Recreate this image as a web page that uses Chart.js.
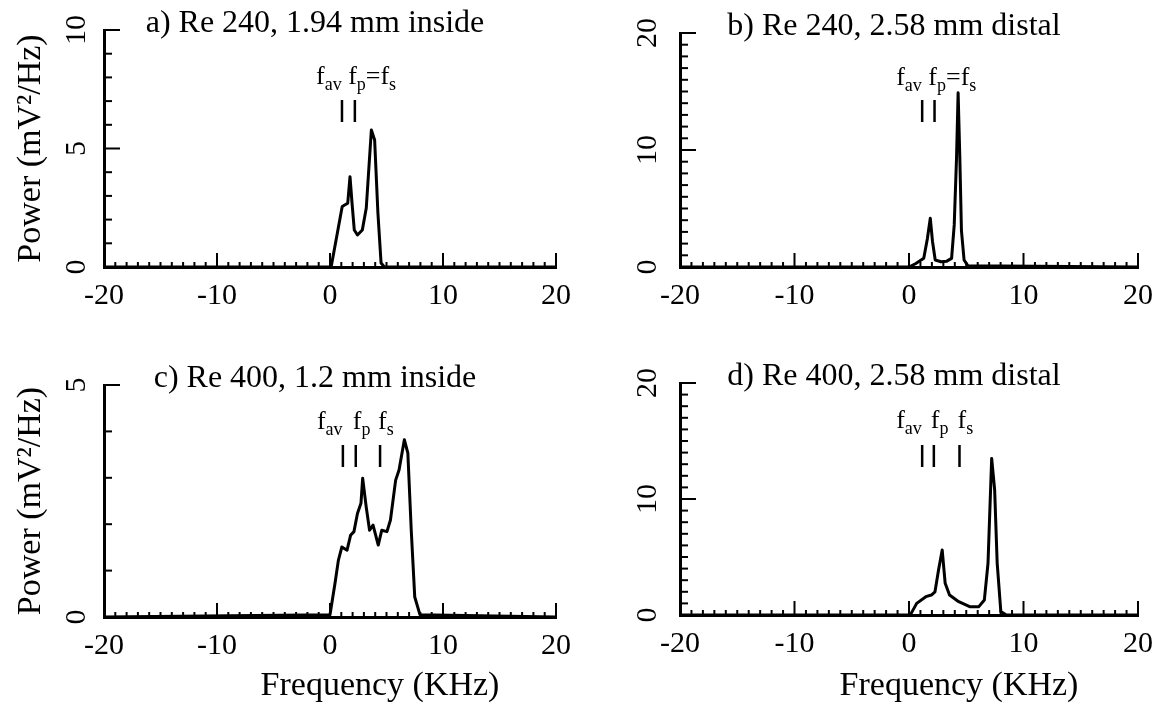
<!DOCTYPE html>
<html>
<head>
<meta charset="utf-8">
<script src="https://cdn.jsdelivr.net/npm/chart.js@4.4.1/dist/chart.umd.min.js"></script>
<style>
  body { margin: 0; background: #fff; }
  #wrap { position: relative; width: 1164px; height: 708px; overflow: hidden; }
  canvas { position: absolute; }
</style>
</head>
<body>
<div id="wrap">
  <canvas id="pa" width="582" height="330" style="left:0;top:0"></canvas>
  <canvas id="pb" width="582" height="330" style="left:582px;top:0"></canvas>
  <canvas id="pc" width="582" height="378" style="left:0;top:330px"></canvas>
  <canvas id="pd" width="582" height="378" style="left:582px;top:330px"></canvas>
</div>
<script>
// spectra (frequency in KHz, power in mV^2/Hz)
var freqA = [-20, 0, 0.1, 1.08, 1.57, 1.77, 1.95, 2.15, 2.43, 2.86, 3.21, 3.66, 3.95, 4.24, 4.52, 4.81, 20];
var powerA = [0, 0, 0, 2.55, 2.69, 3.81, 2.7, 1.56, 1.35, 1.56, 2.49, 5.78, 5.36, 2.28, 0.17, 0, 0];

var freqB = [-20, 0, 0.6, 1.29, 1.6, 1.86, 2.05, 2.29, 2.8, 3.3, 3.72, 3.95, 4.15, 4.29, 4.44, 4.58, 4.81, 5.15, 20];
var powerB = [0, 0, 0.3, 0.74, 2.4, 4.16, 2.2, 0.6, 0.45, 0.5, 0.74, 3.6, 9.3, 14.9, 9.3, 3.1, 0.6, 0.1, 0];

var freqC = [-20, 0, 0.44, 0.74, 1.05, 1.51, 1.82, 2.12, 2.43, 2.74, 2.89, 3.2, 3.5, 3.81, 4.27, 4.58, 5.04, 5.35, 5.81, 6.11, 6.58, 6.89, 7.19, 7.5, 7.96, 20];
var powerC = [0, 0.05, 0.72, 1.22, 1.51, 1.44, 1.76, 1.84, 2.23, 2.45, 2.99, 2.38, 1.87, 1.98, 1.55, 1.87, 1.84, 2.09, 2.95, 3.17, 3.82, 3.53, 1.87, 0.43, 0.05, 0];

var freqD = [-20, 0, 0.19, 0.67, 1.47, 1.95, 2.27, 2.58, 2.9, 3.16, 3.54, 4.34, 5.3, 6.1, 6.58, 6.9, 7.22, 7.48, 7.7, 8.02, 8.5, 20];
var powerD = [0, 0, 0.14, 1.0, 1.58, 1.72, 2.0, 3.88, 5.6, 2.73, 1.72, 1.15, 0.72, 0.72, 1.29, 4.46, 13.5, 10.8, 4.5, 0.29, 0, 0];

// f_av, f_p, f_s marker frequencies
var markA = [1.06, 2.2];
var markB = [1.15, 2.23];
var markC = [1.14, 2.28, 4.43];
var markD = [1.15, 2.17, 4.41];

var xTicks = [-20, -10, 0, 10, 20];
var yTicksA = [0, 5, 10];
var yTicksB = [0, 10, 20];
var yTicksC = [0, 5];
var yTicksD = [0, 10, 20];

var titles = ["a) Re 240, 1.94 mm inside", "b) Re 240, 2.58 mm distal",
              "c) Re 400, 1.2 mm inside", "d) Re 400, 2.58 mm distal"];

var SERIF = '"Liberation Serif", "Times New Roman", serif';
Chart.defaults.font.family = SERIF;
Chart.defaults.color = '#000';

function line(ctx, x1, y1, x2, y2) {
  ctx.beginPath(); ctx.moveTo(x1, y1); ctx.lineTo(x2, y2); ctx.stroke();
}

function drawPieces(ctx, x, y, pieces) {
  pieces.forEach(function (p) {
    ctx.font = (p[1] ? '18px ' : '26px ') + SERIF;
    ctx.fillText(p[0], x, p[1] ? y + 6 : y);
    x += ctx.measureText(p[0]).width;
  });
}

function makePanel(id, c) {
  var decor = {
    id: 'decor',
    afterDraw: function (chart) {
      var ctx = chart.ctx, xs = chart.scales.x, ys = chart.scales.y, ca = chart.chartArea;
      ctx.save();
      ctx.strokeStyle = '#000'; ctx.fillStyle = '#000'; ctx.lineWidth = 2;
      // inward tick marks
      for (var v = -19; v <= 20; v++) {
        var px = xs.getPixelForValue(v);
        line(ctx, px, ca.bottom, px, ca.bottom - (v % 10 === 0 ? 14 : 5));
      }
      for (var w = 1; w <= c.ymax; w++) {
        var py = ys.getPixelForValue(w);
        line(ctx, ca.left, py, ca.left + (c.yTicks.indexOf(w) >= 0 ? 16 : 8), py);
      }
      // rotated y tick labels
      ctx.font = '30px ' + SERIF;
      ctx.textAlign = 'center'; ctx.textBaseline = 'middle';
      c.yTicks.forEach(function (t) {
        ctx.save();
        ctx.translate(ca.left - c.ylabOff, ys.getPixelForValue(t));
        ctx.rotate(-Math.PI / 2);
        ctx.fillText(String(t), 0, 0);
        ctx.restore();
      });
      // panel title
      ctx.font = '32px ' + SERIF;
      ctx.textBaseline = 'alphabetic';
      ctx.fillText(c.title, (ca.left + ca.right) / 2 - 15, ca.top + 2);
      // x axis title
      if (c.xTitle) {
        ctx.font = '34px ' + SERIF;
        ctx.textBaseline = 'middle';
        ctx.fillText('Frequency (KHz)', (ca.left + ca.right) / 2 + 50, chart.height - 22);
      }
      // f_av / f_p / f_s markers
      ctx.textAlign = 'left'; ctx.textBaseline = 'alphabetic';
      ctx.lineWidth = 2.5;
      var m = c.marks;
      m.forEach(function (f) {
        var px = xs.getPixelForValue(f);
        line(ctx, px, ca.top + c.barTop, px, ca.top + c.barTop + 22);
      });
      var base = ca.top + c.textDy;
      if (m.length === 2) {
        drawPieces(ctx, xs.getPixelForValue(m[0]) - 26, base,
          [['f', 0], ['av', 1], [' ', 0], ['f', 0], ['p', 1], ['=', 0], ['f', 0], ['s', 1]]);
      } else {
        drawPieces(ctx, xs.getPixelForValue(m[0]) - 26, base, [['f', 0], ['av', 1]]);
        drawPieces(ctx, xs.getPixelForValue(m[1]) - 3, base, [['f', 0], ['p', 1]]);
        drawPieces(ctx, xs.getPixelForValue(m[2]) - 2, base, [['f', 0], ['s', 1]]);
      }
      ctx.restore();
    }
  };

  new Chart(document.getElementById(id), {
    type: 'line',
    data: {
      datasets: [{
        data: c.freq.map(function (f, i) { return { x: f, y: c.power[i] }; }),
        borderColor: '#000',
        borderWidth: 3,
        borderJoinStyle: 'round',
        pointRadius: 0,
        tension: 0,
        fill: false
      }]
    },
    options: {
      responsive: false,
      animation: false,
      devicePixelRatio: 1,
      layout: { autoPadding: false, padding: { top: c.padTop, right: c.padRight, left: 0, bottom: 0 } },
      plugins: { legend: { display: false }, tooltip: { enabled: false } },
      scales: {
        x: {
          type: 'linear', min: -20, max: 20,
          afterBuildTicks: function (s) { s.ticks = xTicks.map(function (v) { return { value: v }; }); },
          ticks: { font: { size: 30 }, color: '#000', padding: 11, maxRotation: 0, autoSkip: false },
          grid: { display: false, drawTicks: false },
          border: { display: true, color: '#000', width: 3 },
          afterFit: function (s) { s.height = c.xh; }
        },
        y: {
          type: 'linear', min: 0, max: c.ymax,
          ticks: { display: false },
          grid: { display: false, drawTicks: false },
          border: { display: true, color: '#000', width: 3 },
          title: { display: c.yTitle, text: 'Power (mV\u00B2/Hz)', font: { size: 34 }, color: '#000', padding: { top: 11, bottom: 0 } },
          afterFit: function (s) { s.width = c.yw; }
        }
      }
    },
    plugins: [decor]
  });
}

makePanel('pa', { freq: freqA, power: powerA, marks: markA, yTicks: yTicksA, ymax: 10, title: titles[0],
  padTop: 30, padRight: 13, yw: 104, xh: 63, yTitle: true, xTitle: false, ylabOff: 27, barTop: 70, textDy: 54 });
makePanel('pb', { freq: freqB, power: powerB, marks: markB, yTicks: yTicksB, ymax: 20, title: titles[1],
  padTop: 33, padRight: 18, yw: 98, xh: 63, yTitle: false, xTitle: false, ylabOff: 32, barTop: 67, textDy: 52 });
makePanel('pc', { freq: freqC, power: powerC, marks: markC, yTicks: yTicksC, ymax: 5, title: titles[2],
  padTop: 55, padRight: 13, yw: 104, xh: 91, yTitle: true, xTitle: true, ylabOff: 27, barTop: 60, textDy: 44 });
makePanel('pd', { freq: freqD, power: powerD, marks: markD, yTicks: yTicksD, ymax: 20, title: titles[3],
  padTop: 53, padRight: 18, yw: 98, xh: 93, yTitle: false, xTitle: true, ylabOff: 32, barTop: 62, textDy: 45 });
</script>
</body>
</html>
